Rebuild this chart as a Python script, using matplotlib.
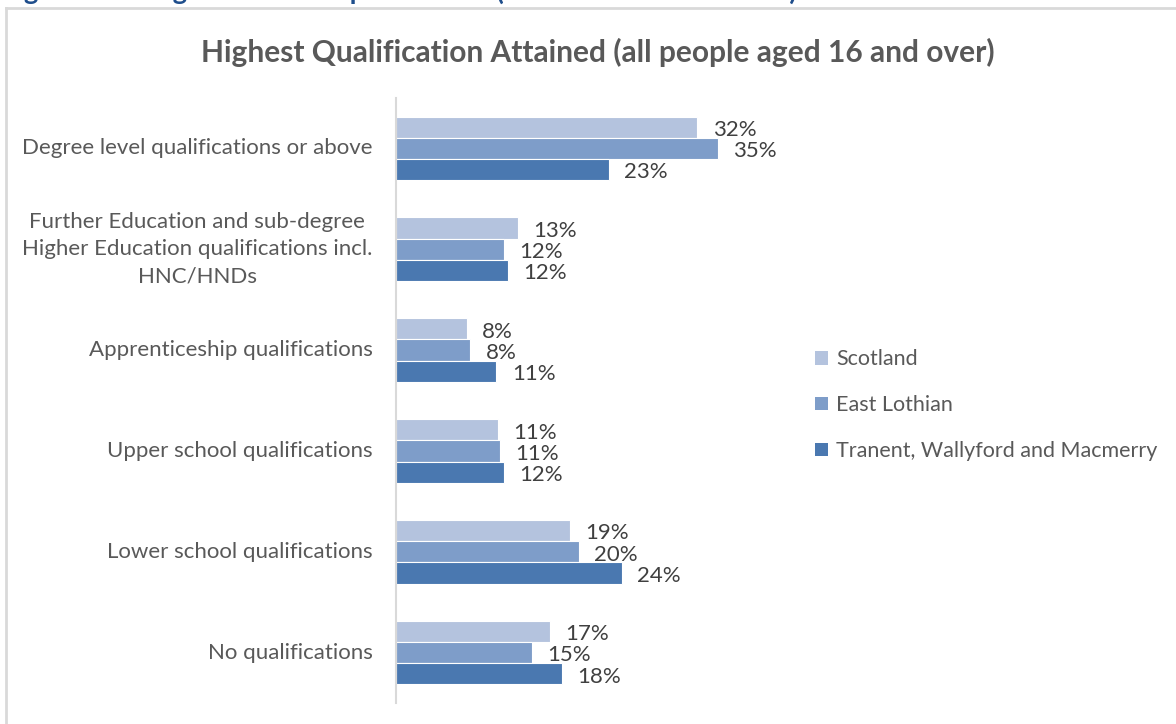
import matplotlib
matplotlib.use("Agg")
import matplotlib.pyplot as plt
from matplotlib.lines import Line2D
from matplotlib.patches import Patch

# --- data ---
categories = [
    "Degree level qualifications or above",
    "Further Education and sub-degree\nHigher Education qualifications incl.\nHNC/HNDs",
    "Apprenticeship qualifications",
    "Upper school qualifications",
    "Lower school qualifications",
    "No qualifications",
]
series_names = ["Scotland", "East Lothian", "Tranent, Wallyford and Macmerry"]
scotland = [32.4, 13.1, 7.6, 11.0, 18.7, 16.6]
east_lothian = [34.6, 11.6, 8.0, 11.2, 19.7, 14.6]
tranent = [22.9, 12.0, 10.8, 11.6, 24.3, 17.8]

colors = ["#b4c3de", "#7e9dc9", "#4a78b0"]
TEXT = "#595959"
FONT = "Lato"

plt.rcParams["font.family"] = [FONT, "DejaVu Sans"]

fig = plt.figure(figsize=(11.76, 7.24), dpi=100)
W, H = 1176, 724

# chart frame (light grey, top and left edges visible)
fig.add_artist(Line2D([6 / W, 1.0], [1 - 8 / H, 1 - 8 / H], color="#d9d9d9", lw=2))
fig.add_artist(Line2D([6 / W, 6 / W], [0, 1 - 8 / H], color="#d9d9d9", lw=2))

# figure caption above the chart frame
fig.text(2 / W, 1 + 9 / H, "Figure 12 \u2013 Highest level of qualification (Scotland\u2019s Census 2022)",
         color="#1f4e8c", fontsize=19.5, fontweight="bold", ha="left", va="center")

fig.text(598 / W, 1 - 52 / H, "Highest Qualification Attained (all people aged 16 and over)",
         color=TEXT, fontsize=21.5, fontweight="bold", ha="center", va="center")

ax = fig.add_axes([396 / W, 21 / H, 372 / W, 605 / H])
ax.set_xlim(0, 40)
ax.set_ylim(len(categories) - 0.5, -0.5)

bar_h = 0.21
offsets = [-bar_h, 0, bar_h]
for vals, off, col, name in zip([scotland, east_lothian, tranent], offsets, colors, series_names):
    ys = [i + off for i in range(len(categories))]
    ax.barh(ys, vals, height=bar_h, color=col, edgecolor="white", linewidth=0.8, label=name)
    for y, v in zip(ys, vals):
        ax.annotate(f"{v:.0f}%", (v, y), xytext=(11, -2), textcoords="offset points",
                    ha="left", va="center", fontsize=16, color="#404040")

for i, cat in enumerate(categories):
    ax.annotate(cat, (0, i), xytext=(-17, 0), textcoords="offset points",
                ha="right", va="center", multialignment="center",
                fontsize=16, color=TEXT, linespacing=1.45)

for s in ["top", "right", "bottom"]:
    ax.spines[s].set_visible(False)
ax.spines["left"].set_color("#d9d9d9")
ax.spines["left"].set_linewidth(1.5)
ax.set_xticks([])
ax.set_yticks([])

handles = [Patch(facecolor=c, edgecolor="none") for c in colors]
fig.legend(handles, series_names, loc="upper left", bbox_to_anchor=(796 / W, 1 - 330 / H),
           frameon=False, fontsize=15.5, labelcolor=TEXT, handlelength=0.6, handleheight=0.6,
           handletextpad=0.35, labelspacing=1.2)

fig.savefig("out.png", dpi=100)
